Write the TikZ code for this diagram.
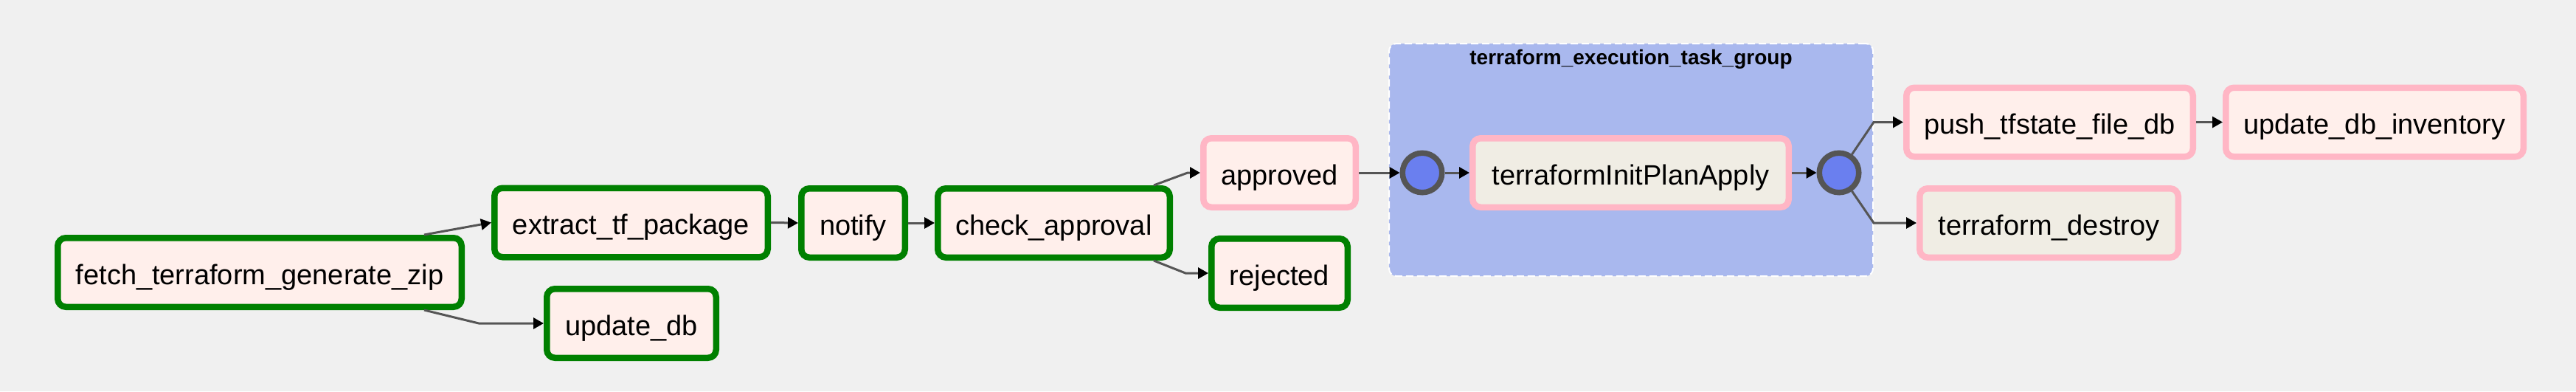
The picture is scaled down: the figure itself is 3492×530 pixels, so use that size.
\documentclass[tikz,border=0pt]{standalone}
\usepackage{fontspec}
\setmainfont{Liberation Sans}
\usetikzlibrary{arrows.meta,calc}
\definecolor{bg}{HTML}{F0F0F0}
\definecolor{okgreen}{HTML}{008000}
\definecolor{skippink}{HTML}{FFB6C5}
\definecolor{pyfill}{HTML}{FFEFEB}
\definecolor{bashfill}{HTML}{F0EDE4}
\definecolor{grpfill}{HTML}{A9B8EE}
\definecolor{joinfill}{HTML}{6A7FEF}
\definecolor{joinborder}{HTML}{555555}
\definecolor{edgegray}{HTML}{555555}
\begin{document}
\begin{tikzpicture}[x=1pt,y=-1pt,
  task/.style={rectangle, rounded corners=11pt, line width=8.5pt, inner sep=0pt,
    minimum height=93.5pt, text height=32pt, text depth=0pt,
    font=\fontsize{38}{44}\selectfont, text=black},
  okbox/.style={task, draw=okgreen, fill=pyfill},
  skipbox/.style={task, draw=skippink, fill=pyfill},
  skipbash/.style={task, draw=skippink, fill=bashfill},
  joinnode/.style={circle, draw=joinborder, fill=joinfill, line width=7.5pt, minimum size=53.5pt, inner sep=0pt},
  grpbox/.style={rectangle, rounded corners=10pt, draw=white, dash pattern=on 10pt off 5pt, line width=2pt, fill=grpfill, inner sep=0pt},
  edge/.style={draw=edgegray, line width=3pt, -{Triangle[length=14pt,width=15pt,color=black]}}
]
\useasboundingbox[fill=bg] (0,0) rectangle (3492,530);

% task group
\node[grpbox, anchor=north west, minimum width=656pt, minimum height=315pt] (grp) at (1882,58) {};
\node[font=\fontsize{28}{33}\selectfont\bfseries, anchor=base] (grplabel) at (2211,87) {terraform\_execution\_task\_group};

% tasks
\node[okbox, minimum width=547.5pt] (fetch) at (352,369) {fetch\_terraform\_generate\_zip};
\node[okbox, minimum width=370.5pt] (extract) at (855.5,301.5) {extract\_tf\_package};
\node[okbox, minimum width=229.5pt] (updatedb) at (856,438) {update\_db};
\node[okbox, minimum width=140.5pt] (notify) at (1156.5,302) {notify};
\node[okbox, minimum width=314.5pt] (check) at (1428.5,302) {check\_approval};
\node[skipbox, minimum width=206.5pt] (approved) at (1734.5,234) {approved};
\node[okbox, minimum width=184.5pt] (rejected) at (1734.5,370) {rejected};
\node[joinnode] (lc) at (1928,234) {};
\node[skipbash, minimum width=428.5pt] (tipa) at (2210.5,234) {terraformInitPlanApply};
\node[joinnode] (rc) at (2493,234) {};
\node[skipbox, minimum width=388.5pt] (push) at (2778.5,165.5) {push\_tfstate\_file\_db};
\node[skipbox, minimum width=403.5pt] (inv) at (3219,165.5) {update\_db\_inventory};
\node[skipbash, minimum width=350.5pt] (destroy) at (2777.5,302) {terraform\_destroy};

% edges
\draw[edge] ([xshift=-55pt]fetch.north east) -- (extract.west);
\draw[edge] ([xshift=-55pt]fetch.south east) -- ([xshift=-88pt]updatedb.west) -- (updatedb.west);
\draw[edge] (extract.east) -- (notify.west);
\draw[edge] (notify.east) -- (check.west);
\draw[edge] ([xshift=-26pt]check.north east) -- ([xshift=-17pt]approved.west) -- (approved.west);
\draw[edge] ([xshift=-26pt]check.south east) -- ([xshift=-31pt]rejected.west) -- (rejected.west);
\draw[edge] (approved.east) -- (lc.west);
\draw[edge] (lc.east) -- (tipa.west);
\draw[edge] (tipa.east) -- (rc.west);
\draw[edge] (rc.55) -- (push.west -| grp.east) -- (push.west);
\draw[edge] (rc.-55) -- (destroy.west -| grp.east) -- (destroy.west);
\draw[edge] (push.east) -- (inv.west);
\end{tikzpicture}
\end{document}
